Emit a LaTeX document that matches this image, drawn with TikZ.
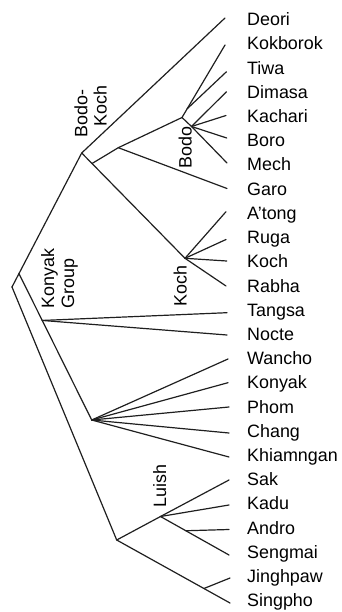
\documentclass[tikz,border=0pt]{standalone}
\usepackage{fontspec}
\setmainfont{Liberation Sans}
\usetikzlibrary{calc}
\begin{document}
\begin{tikzpicture}[x=1pt,y=-1pt,
  edge/.style={draw=black!88, line width=1.2pt, line cap=round, line join=round},
  lang/.style={anchor=base west, inner sep=0pt, font=\fontsize{17.9}{20}\selectfont},
  grp/.style={anchor=base west, inner sep=0pt, rotate=90, font=\fontsize{17.9}{20}\selectfont}]
\useasboundingbox (0,0) rectangle (342,612);
% language labels
\foreach \nm/\txt [count=\i from 0] in {Deori/Deori, Kokborok/Kokborok, Tiwa/Tiwa, Dimasa/Dimasa,
  Kachari/Kachari, Boro/Boro, Mech/Mech, Garo/Garo, Atong/A’tong, Ruga/Ruga, Koch/Koch, Rabha/Rabha,
  Tangsa/Tangsa, Nocte/Nocte, Wancho/Wancho, Konyak/Konyak, Phom/Phom, Chang/Chang,
  Khiamngan/Khiamngan, Sak/Sak, Kadu/Kadu, Andro/Andro, Sengmai/Sengmai, Jinghpaw/Jinghpaw,
  Singpho/Singpho}
  \node[lang] (l\nm) at (247,{25.7+24.21*\i}) {\txt};
% leaf ends
\coordinate (eDeori) at (225,18);
\coordinate (eKokborok) at (225,45);
\coordinate (eTiwa) at (226.5,71.7);
\coordinate (eDimasa) at (226.5,91.7);
\coordinate (eKachari) at (226,115.5);
\coordinate (eBoro) at (226.7,138);
\coordinate (eMech) at (227,163);
\coordinate (eGaro) at (227,188.5);
\coordinate (eAtong) at (226,211.7);
\coordinate (eRuga) at (226,239.5);
\coordinate (eKoch) at (226.7,261);
\coordinate (eRabha) at (226,286);
\coordinate (eTangsa) at (227,312.7);
\coordinate (eNocte) at (227,335);
\coordinate (eWancho) at (228,359);
\coordinate (eKonyak) at (228,382.7);
\coordinate (ePhom) at (229,407);
\coordinate (eChang) at (229,433);
\coordinate (eKhiamngan) at (229,457);
\coordinate (eSak) at (229,480);
\coordinate (eKadu) at (229,505);
\coordinate (eAndro) at (229,529.5);
\coordinate (eSengmai) at (229,555);
\coordinate (eJinghpaw) at (230,578);
\coordinate (eSingpho) at (230,603);
% internal nodes
\coordinate (root) at (12,287);
\coordinate (BK) at (81.7,153);
\coordinate (KB) at ($(root)!0.1!(BK)$);
\coordinate (KochN) at (185,258.3);
\coordinate (GB) at ($(BK)!0.1!(KochN)$);
\coordinate (GaroN) at (118.3,147.7);
\coordinate (BodoA) at (182,117.5);
\coordinate (TiwaB) at ($(BodoA)!0.12!(eKokborok)$);
\coordinate (BodoB) at (191.5,126.5);
\coordinate (KonN) at (91.7,420);
\coordinate (TN) at ($(KB)!0.32!(KonN)$);
\coordinate (LuN) at (116.7,540);
\coordinate (LuA) at (160.5,516.5);
\coordinate (AndB) at ($(LuA)!0.37!(eSengmai)$);
\coordinate (JinB) at ($(LuN)!0.77!(eSingpho)$);
% branches
\draw[edge] (root) -- (BK) -- (eDeori);
\draw[edge] (BK) -- (KochN);
\draw[edge] (GB) -- (GaroN) -- (eGaro);
\draw[edge] (GaroN) -- (BodoA) -- (eKokborok);
\draw[edge] (TiwaB) -- (eTiwa);
\draw[edge] (BodoA) -- (BodoB);
\foreach \t in {Dimasa,Kachari,Boro,Mech} \draw[edge] (BodoB) -- (e\t);
\foreach \t in {Atong,Ruga,Koch,Rabha} \draw[edge] (KochN) -- (e\t);
\draw[edge] (KB) -- (KonN);
\draw[edge] (TN) -- (eTangsa);
\draw[edge] (TN) -- (eNocte);
\foreach \t in {Wancho,Konyak,Phom,Chang,Khiamngan} \draw[edge] (KonN) -- (e\t);
\draw[edge] (root) -- (LuN) -- (eSingpho);
\draw[edge] (JinB) -- (eJinghpaw);
\draw[edge] (LuN) -- (LuA) -- (eSak);
\draw[edge] (LuA) -- (eKadu);
\draw[edge] (LuA) -- (eSengmai);
\draw[edge] (AndB) -- (eAndro);
% group labels
\node[grp] (gBodo1) at (87.3,137.5) {Bodo-};
\node[grp] (gBodo2) at (106.7,127) {Koch};
\node[grp] (gBodo) at (191.7,168.5) {Bodo};
\node[grp] (gKoch) at (186.7,307) {Koch};
\node[grp] (gKon1) at (54.2,308.5) {Konyak};
\node[grp] (gKon2) at (74.2,308.5) {Group};
\node[grp] (gLuish) at (166,507.5) {Luish};
\end{tikzpicture}
\end{document}
